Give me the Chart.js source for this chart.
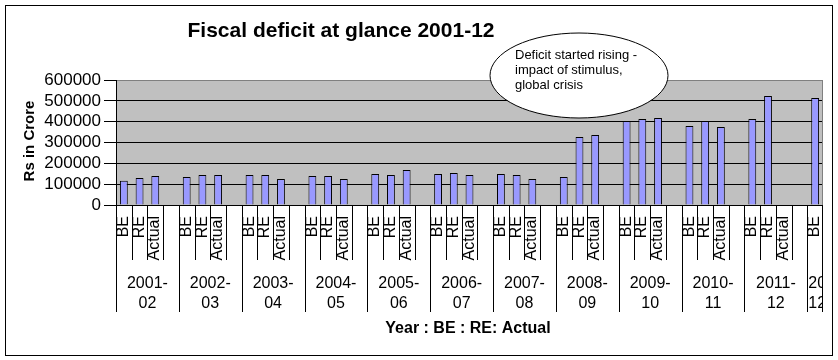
<!DOCTYPE html>
<html>
<head>
<meta charset="utf-8">
<title>Fiscal deficit at glance 2001-12</title>
<script src="https://cdn.jsdelivr.net/npm/chart.js@4.4.0/dist/chart.umd.min.js"></script>
<style>
  html, body { margin: 0; padding: 0; background: #fff; }
</style>
</head>
<body>
<canvas id="canvas" width="838" height="360"></canvas>
<script>
const years = ['2001-02', '2002-03', '2003-04', '2004-05', '2005-06', '2006-07',
  '2007-08', '2008-09', '2009-10', '2010-11', '2011-12', '2012-13']
// how the year labels wrap under the axis (the last group is too narrow)
const yearLines = [['2001-', '02'], ['2002-', '03'], ['2003-', '04'], ['2004-', '05'],
  ['2005-', '06'], ['2006-', '07'], ['2007-', '08'], ['2008-', '09'], ['2009-', '10'],
  ['2010-', '11'], ['2011-', '12'], ['20', '12-', '13']]
const kinds = ['BE', 'RE', 'Actual', '']

// Rs in crore
const be = [116000, 134000, 144000, 139000, 149000, 149000, 149000, 134000, 403000, 379000, 413000, 514000]
const re = [130000, 144000, 144000, 139000, 144000, 154000, 144000, 326000, 413000, 403000, 523000, null]
const actual = [139000, 144000, 125000, 125000, 168000, 144000, 125000, 336000, 418000, 374000, null, null]

const yTicks = [0, 100000, 200000, 300000, 400000, 500000, 600000]

const FONT = '"Liberation Sans", Arial, sans-serif'

// one slot per BE / RE / Actual plus an empty gap slot per year
const slots = []
const values = []
years.forEach(function (y, i) {
  kinds.forEach(function (k) { slots.push(k) })
  values.push(be[i], re[i], actual[i], null)
})
const lastSlot = slots.length - 4  // picture is cut after 2012-13 BE

function line(c, x1, y1, x2, y2) {
  c.beginPath()
  c.moveTo(x1, y1)
  c.lineTo(x2, y2)
  c.stroke()
}

const excelLook = {
  id: 'excelLook',
  beforeDraw: function (chart) {
    const c = chart.ctx, a = chart.chartArea
    c.save()
    c.fillStyle = '#fff'
    c.fillRect(0, 0, chart.width, chart.height)
    c.fillStyle = '#c0c0c0'
    c.fillRect(a.left, a.top, a.right - a.left, a.bottom - a.top)
    c.restore()
  },
  afterDraw: function (chart) {
    const c = chart.ctx, a = chart.chartArea, x = chart.scales.x
    const w = (x.right - x.left) / (x.max - x.min + 1)
    c.save()
    c.lineWidth = 1

    // plot area right border
    c.strokeStyle = '#808080'
    line(c, Math.round(a.right) - 0.5, a.top, Math.round(a.right) - 0.5, a.bottom)

    // category boxes and rotated labels
    c.strokeStyle = '#000'
    c.fillStyle = '#000'
    c.font = '16px ' + FONT
    for (let i = x.min; i <= x.max; i++) {
      const left = x.getPixelForValue(i) - w / 2
      const px = Math.round(left) + 0.5
      line(c, px, a.bottom, px, i % 4 === 0 ? 312 : 260)
      c.save()
      c.translate(left + 12, 216)
      c.rotate(-Math.PI / 2)
      c.textAlign = 'right'
      c.textBaseline = 'alphabetic'
      c.fillText(slots[i], 0, 0)
      c.restore()
    }
    line(c, Math.round(a.right) - 0.5, a.bottom, Math.round(a.right) - 0.5, 312)

    // year labels
    c.save()
    c.beginPath()
    c.rect(a.left, a.bottom, a.right - a.left, 107)
    c.clip()
    yearLines.forEach(function (lines, g) {
      const gl = x.getPixelForValue(g * 4) - w / 2
      const gr = Math.min(gl + 4 * w, a.right)
      lines.forEach(function (t, k) {
        const ty = 288 + k * 19.5
        if (c.measureText(t).width > gr - gl) {
          c.textAlign = 'left'
          c.fillText(t, gl + 1, ty)
        } else {
          c.textAlign = 'center'
          c.fillText(t, (gl + gr) / 2, ty)
        }
      })
    })
    c.restore()

    // titles
    c.textAlign = 'center'
    c.font = 'bold 21px ' + FONT
    c.fillText('Fiscal deficit at glance 2001-12', 341, 37)
    c.font = 'bold 16px ' + FONT
    c.fillText('Year : BE : RE: Actual', 468, 333)
    c.save()
    c.translate(34, 141)
    c.rotate(-Math.PI / 2)
    c.font = 'bold 15px ' + FONT
    c.fillText('Rs in Crore', 0, 0)
    c.restore()

    // callout
    c.beginPath()
    c.ellipse(579, 75.5, 89, 42.5, 0, 0, Math.PI * 2)
    c.fillStyle = '#fff'
    c.fill()
    c.stroke()
    c.fillStyle = '#000'
    c.textAlign = 'left'
    c.font = '13px ' + FONT
    c.fillText('Deficit started rising -', 515, 59)
    c.fillText('impact of stimulus,', 515, 74)
    c.fillText('global crisis', 515, 89)

    // chart border
    c.strokeRect(5.5, 5.5, 827, 350)
    c.restore()
  }
}

const ctx = document.getElementById('canvas').getContext('2d')
const chart = new Chart(ctx, {
  type: 'bar',
  data: {
    labels: slots,
    datasets: [{
      data: values,
      backgroundColor: '#9999ff',
      borderColor: '#000',
      borderWidth: 1,
      barPercentage: 0.5,
      categoryPercentage: 1
    }]
  },
  options: {
    responsive: false,
    animation: false,
    layout: { padding: { left: 0, top: 80, right: 15, bottom: 155 } },
    plugins: { legend: { display: false }, tooltip: { enabled: false } },
    scales: {
      x: { display: false, min: 0, max: lastSlot },
      y: {
        min: 0,
        max: 600000,
        afterBuildTicks: function (s) { s.ticks = yTicks.map(function (v) { return { value: v } }) },
        afterFit: function (s) { s.width = 116 },
        ticks: {
          autoSkip: false,
          color: '#000',
          padding: 3,
          font: { family: FONT, size: 17 },
          callback: function (v) { return String(v) }
        },
        grid: {
          color: function (c) { return c.tick && c.tick.value === 600000 ? '#808080' : '#000' },
          tickColor: '#000',
          tickLength: 12
        },
        border: { display: true, color: '#000' }
      }
    }
  },
  plugins: [excelLook]
})
</script>
</body>
</html>
